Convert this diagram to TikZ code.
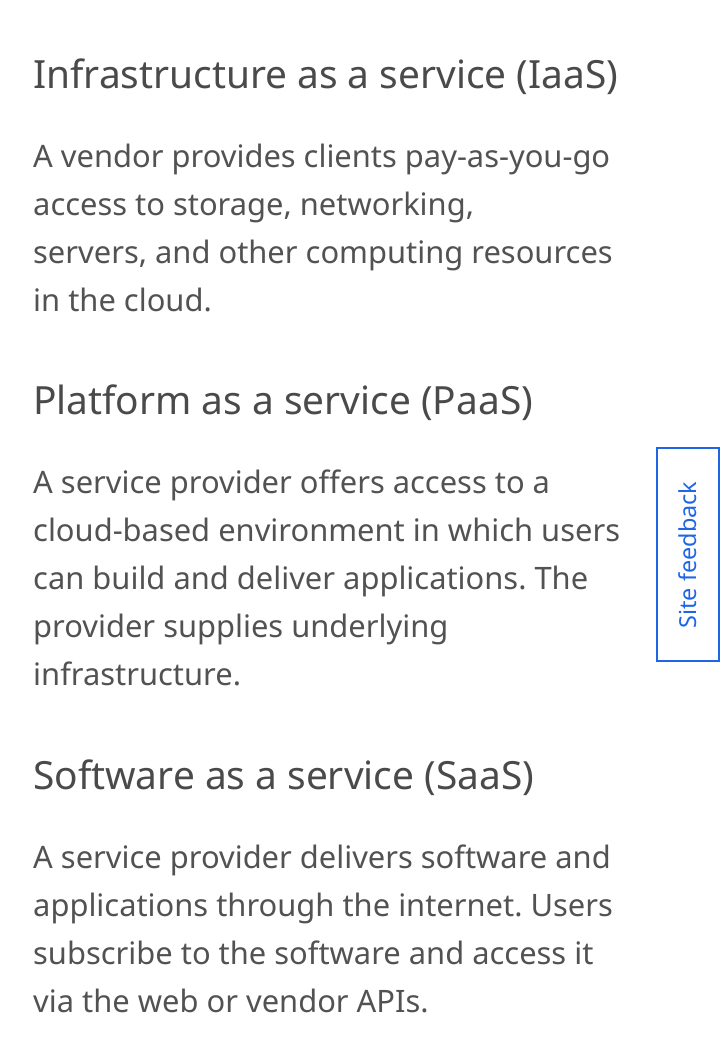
\documentclass[tikz,border=0pt]{standalone}
\usepackage{fontspec}
\setmainfont{Noto Sans}
\frenchspacing
\definecolor{bodygray}{HTML}{525252}
\definecolor{headgray}{HTML}{4A4A4A}
\definecolor{ibmblue}{HTML}{1F66E5}
\tikzset{
  headtxt/.style={anchor=base west, inner sep=0pt, text=headgray, font=\fontsize{39}{44}\selectfont\frenchspacing},
  bodytxt/.style={anchor=base west, inner sep=0pt, text=bodygray, font=\fontsize{31}{36}\selectfont\frenchspacing},
  fbbox/.style={draw=ibmblue, line width=2bp, fill=white},
}
\begin{document}
\begin{tikzpicture}[x=1bp,y=-1bp]
\useasboundingbox[fill=white] (0,0) rectangle (720,1060);
% IaaS
\node[headtxt] (h1) at (33,88) {Infrastructure as a service (IaaS)};
\node[bodytxt] (b11) at (33,167) {A vendor provides clients pay-as-you-go};
\node[bodytxt] (b12) at (33,215) {access to storage, networking,};
\node[bodytxt] (b13) at (33,263) {servers, and other computing resources};
\node[bodytxt] (b14) at (33,311) {in the cloud.};
% PaaS
\node[headtxt] (h2) at (33,414) {Platform as a service (PaaS)};
\node[bodytxt] (b21) at (33,493) {A service provider offers access to a};
\node[bodytxt] (b22) at (33,541) {cloud-based environment in which users};
\node[bodytxt] (b23) at (33,589) {can build and deliver applications. The};
\node[bodytxt] (b24) at (33,637) {provider supplies underlying};
\node[bodytxt] (b25) at (33,685) {infrastructure.};
% SaaS
\node[headtxt] (h3) at (33,789) {Software as a service (SaaS)};
\node[bodytxt] (b31) at (33,868) {A service provider delivers software and};
\node[bodytxt] (b32) at (33,916) {applications through the internet. Users};
\node[bodytxt] (b33) at (33,964) {subscribe to the software and access it};
\node[bodytxt] (b34) at (33,1012) {via the web or vendor APIs.};
% feedback tab
\draw[fbbox] (657,448) rectangle (718.5,661);
\node[rotate=90, inner sep=0pt, text=ibmblue, font=\fontsize{23.5}{26}\selectfont] (fb) at (688,555) {Site feedback};
\end{tikzpicture}
\end{document}
